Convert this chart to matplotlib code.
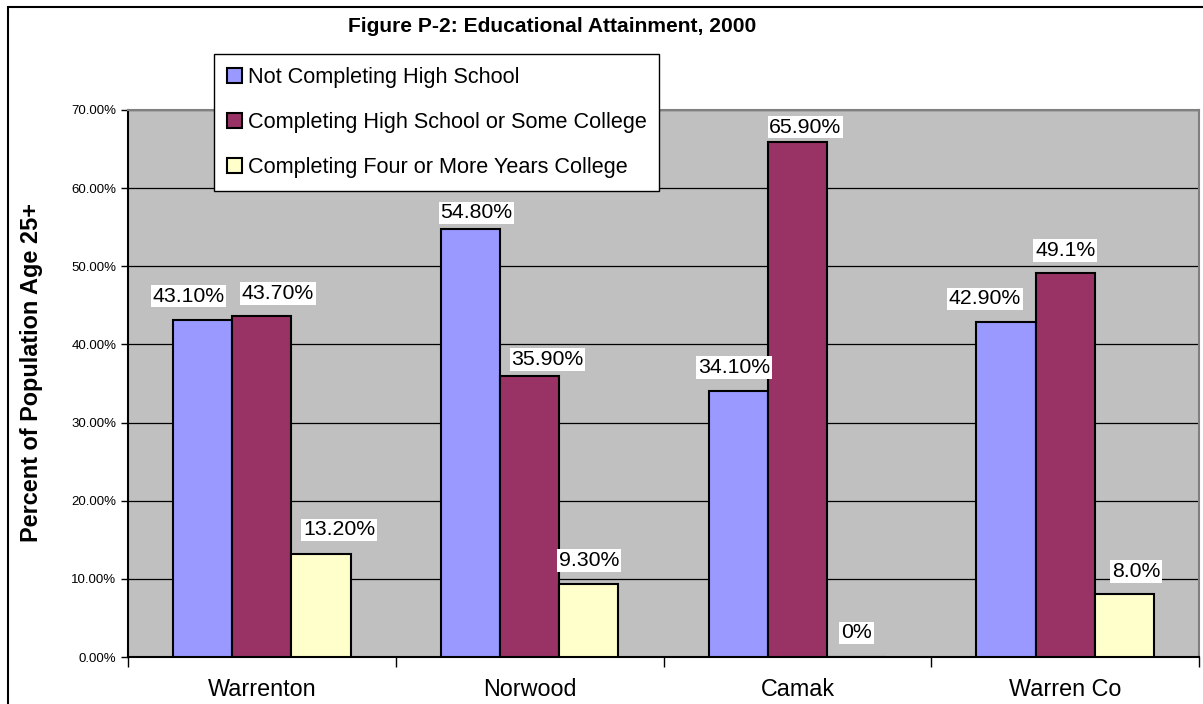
import matplotlib
matplotlib.use("Agg")
import matplotlib.pyplot as plt
import numpy as np
from matplotlib.patches import Rectangle
from matplotlib.ticker import PercentFormatter

plt.rcParams["font.family"] = ["Liberation Sans", "DejaVu Sans"]

# ---------- Data ----------
places = ["Warrenton", "Norwood", "Camak", "Warren Co"]
series = ["Not Completing High School",
          "Completing High School or Some College",
          "Completing Four or More Years College"]
not_hs = [0.431, 0.548, 0.341, 0.429]
hs_some = [0.437, 0.359, 0.659, 0.491]
college4 = [0.132, 0.093, 0.0, 0.080]
labels = [["43.10%", "54.80%", "34.10%", "42.90%"],
          ["43.70%", "35.90%", "65.90%", "49.1%"],
          ["13.20%", "9.30%", "0%", "8.0%"]]

colors = ["#9999FF", "#993366", "#FFFFCC"]
# label nudges (pixels) as placed in the original chart
nudge_x = [[-14, 6, -4, -21], [16, 18, 8, 0], [18, 0, 0, 12]]
nudge_y = [[24, 16, 23, 23], [22, 17, 15, 23], [24, 24, 24, 23]]

W, H = 1203, 704
fig = plt.figure(figsize=(W / 100, H / 100), dpi=100)
ax = fig.add_axes([128 / W, 1 - 657 / H, (1199 - 128) / W, (657 - 110) / H])
ax.set_facecolor("#C0C0C0")

x = np.arange(len(places))
bw = 0.221
for i, vals in enumerate([not_hs, hs_some, college4]):
    bars = ax.bar(x + (i - 1) * bw, vals, bw, color=colors[i],
                  edgecolor="black", linewidth=1.5, label=series[i], zorder=3)
    for j, b in enumerate(bars):
        ax.annotate(labels[i][j], (b.get_x() + b.get_width() / 2, b.get_height()),
                    xytext=(nudge_x[i][j], nudge_y[i][j]), textcoords="offset pixels",
                    ha="center", va="center", fontsize=15.3,
                    bbox=dict(boxstyle="square,pad=0.08", fc="white", ec="none"),
                    zorder=5)

ax.set_xlim(-0.5, 3.5)
ax.set_ylim(0, 0.70)
ax.set_yticks(np.arange(0, 0.701, 0.10))
ax.yaxis.set_major_formatter(PercentFormatter(1.0, decimals=2))
ax.tick_params(axis="y", labelsize=9.5, length=5, width=1, direction="out")
ax.set_xticks(x)
ax.set_xticklabels(places, fontsize=16.8)
ax.tick_params(axis="x", length=0, pad=15)
ax.set_xticks(np.arange(-0.5, 3.6, 1.0), minor=True)
ax.tick_params(axis="x", which="minor", length=7, width=1, direction="out")
ax.grid(axis="y", color="black", linewidth=0.9)
ax.set_axisbelow(True)

for s in ["left", "bottom"]:
    ax.spines[s].set_color("black")
    ax.spines[s].set_linewidth(1.5)
for s in ["top", "right"]:
    ax.spines[s].set_color("#808080")
    ax.spines[s].set_linewidth(1.5)

fig.text(552 / W, 1 - 26 / H, "Figure P-2: Educational Attainment, 2000",
         ha="center", va="center", fontsize=15.1, fontweight="bold")
fig.text(32 / W, 1 - 373 / H, "Percent of Population Age 25+",
         ha="center", va="center", rotation=90, fontsize=16.9, fontweight="bold")

leg = fig.legend(loc="upper left", bbox_to_anchor=(214 / W, 1 - 54 / H),
                 fontsize=15.6, frameon=True, fancybox=False, framealpha=1,
                 edgecolor="black", borderaxespad=0, borderpad=0.6,
                 labelspacing=1.1, handlelength=0.7, handleheight=0.7,
                 handletextpad=0.25)
leg.get_frame().set_linewidth(1.0)
leg.set_zorder(10)

# outer chart border
fig.patches.append(Rectangle((8 / W, -0.1), 1.2, 1.1 - 7 / H, transform=fig.transFigure,
                             fill=False, edgecolor="black", linewidth=1.5))

fig.savefig("out.png", dpi=100)
